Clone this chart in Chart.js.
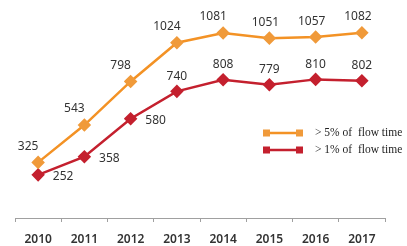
<!DOCTYPE html>
<html lang="en">

<head>
    <meta charset="UTF-8">
    <script src="https://cdn.jsdelivr.net/npm/chart.js"></script>
    <style>
        html, body {
            margin: 0;
            padding: 0;
            background: #fff;
        }

        .wrap {
            width: 407px;
            height: 246px;
        }
    </style>
</head>

<body>
    <div class="wrap">
        <canvas id="flowChart" width="407" height="246"></canvas>
    </div>

    <script>
        const years = ['2010', '2011', '2012', '2013', '2014', '2015', '2016', '2017'];
        const over5 = [325, 543, 798, 1024, 1081, 1051, 1057, 1082];
        const over1 = [252, 358, 580, 740, 808, 779, 810, 802];
        const seriesNames = ['> 5% of  flow time', '> 1% of  flow time'];

        const orange = '#f39225';
        const red = '#c4202e';

        // value labels next to each point
        const valueLabels = {
            id: 'valueLabels',
            afterDatasetsDraw(chart) {
                const ctx = chart.ctx;
                ctx.save();
                ctx.font = '12px "Noto Sans"';
                ctx.fillStyle = '#333';
                ctx.textAlign = 'center';
                ctx.textBaseline = 'middle';
                chart.data.datasets.forEach((ds, i) => {
                    const meta = chart.getDatasetMeta(i);
                    meta.data.forEach((pt, j) => {
                        let dx = 0, dy = -15;
                        if (i === 0) {
                            dx = j < 5 ? -10 : -4;
                            dy = -16;
                        } else if (j < 3) {
                            dx = 25;
                            dy = 2;
                        }
                        ctx.fillText(String(ds.data[j]), pt.x + dx, pt.y + dy);
                    });
                });
                ctx.restore();
            }
        };

        // legend: line with square ends, serif text
        const sideLegend = {
            id: 'sideLegend',
            afterDraw(chart) {
                const ctx = chart.ctx;
                ctx.save();
                chart.data.datasets.forEach((ds, i) => {
                    const y = 133 + i * 17;
                    ctx.strokeStyle = ds.borderColor;
                    ctx.lineWidth = 2.5;
                    ctx.beginPath();
                    ctx.moveTo(265, y);
                    ctx.lineTo(300, y);
                    ctx.stroke();
                    ctx.fillStyle = ds.pointBackgroundColor;
                    ctx.fillRect(263, y - 3.5, 7, 7);
                    ctx.fillRect(296, y - 3.5, 7, 7);
                    ctx.fillStyle = '#222';
                    ctx.font = '11.5px "Liberation Serif"';
                    ctx.textAlign = 'left';
                    ctx.textBaseline = 'middle';
                    ctx.fillText(ds.label, 315, y);
                });
                ctx.restore();
            }
        };

        new Chart(document.getElementById('flowChart'), {
            type: 'line',
            data: {
                labels: years,
                datasets: [{
                    label: seriesNames[0],
                    data: over5,
                    borderColor: orange,
                    backgroundColor: orange,
                    pointBackgroundColor: '#f09a3a',
                    pointBorderColor: '#f09a3a',
                    borderWidth: 2.5,
                    pointStyle: 'rectRot',
                    pointRadius: 5,
                    tension: 0
                }, {
                    label: seriesNames[1],
                    data: over1,
                    borderColor: red,
                    backgroundColor: red,
                    pointBackgroundColor: '#c4202e',
                    pointBorderColor: '#c4202e',
                    borderWidth: 2.5,
                    pointStyle: 'rectRot',
                    pointRadius: 5,
                    tension: 0
                }]
            },
            options: {
                responsive: false,
                animation: false,
                layout: {
                    padding: { left: 15, right: 22, top: 0, bottom: 0 }
                },
                plugins: {
                    legend: { display: false },
                    tooltip: { enabled: false }
                },
                scales: {
                    x: {
                        offset: true,
                        afterFit(scale) {
                            scale.height = 28;
                        },
                        border: { display: true, color: '#a0a0a0', width: 1 },
                        grid: {
                            offset: true,
                            drawOnChartArea: false,
                            drawTicks: true,
                            tickLength: 4,
                            color: '#a0a0a0'
                        },
                        ticks: {
                            color: '#333',
                            padding: 10,
                            font: { family: 'Noto Sans', size: 12, weight: '600' }
                        }
                    },
                    y: {
                        display: false,
                        min: 0,
                        max: 1230
                    }
                }
            },
            plugins: [valueLabels, sideLegend]
        });
    </script>
</body>

</html>
